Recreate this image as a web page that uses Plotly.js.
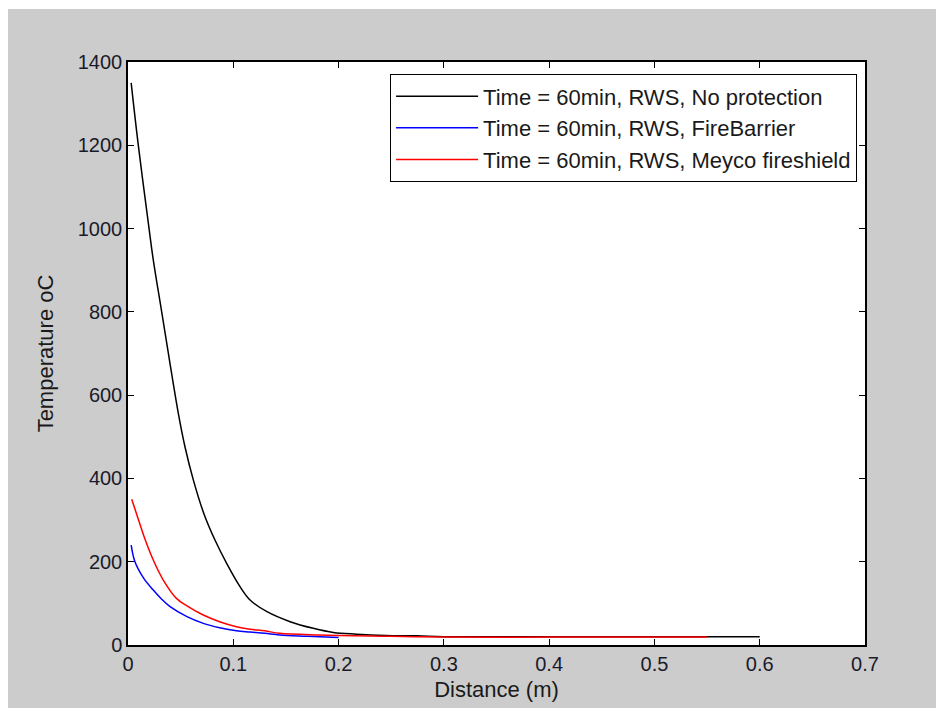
<!DOCTYPE html>
<html>
<head>
<meta charset="utf-8">
<script src="https://cdn.plot.ly/plotly-3.0.1.min.js"></script>
<style>
html,body{margin:0;padding:0;background:#ffffff;}
#plot{position:absolute;left:8px;top:9px;width:928px;height:699px;}
</style>
</head>
<body>
<div id="plot"></div>
<script>
var seriesNames = ["Time = 60min, RWS, No protection", "Time = 60min, RWS, FireBarrier", "Time = 60min, RWS, Meyco fireshield"];
var noProtX = [0.003, 0.0098, 0.020, 0.024, 0.032, 0.0478, 0.0541, 0.0621, 0.072, 0.0826, 0.0937, 0.1064, 0.1159, 0.132, 0.154, 0.176, 0.195, 0.217, 0.245, 0.275, 0.3, 0.4, 0.5, 0.6];
var noProtY = [1350, 1200, 1000, 925, 800, 556, 476, 396, 316, 252, 196, 140, 108, 80, 56, 40, 30, 26, 23, 22, 20, 20, 20, 20];
var fireBarrierX = [0.003, 0.0066, 0.015, 0.024, 0.032, 0.040, 0.056, 0.0715, 0.087, 0.103, 0.116, 0.13, 0.144, 0.17, 0.2];
var fireBarrierY = [240, 200, 160, 132, 110, 92, 68, 52, 41.6, 34, 31, 28, 24, 21, 18];
var meycoX = [0.0035, 0.008, 0.016, 0.024, 0.0335, 0.046, 0.056, 0.0715, 0.087, 0.103, 0.116, 0.13, 0.144, 0.182, 0.25, 0.3, 0.4, 0.5, 0.55];
var meycoY = [350, 316, 255, 204, 156, 112, 94, 72, 56, 44, 38, 34, 28, 24, 21, 19, 19, 19, 19];
var xTicks = [0, 0.1, 0.2, 0.3, 0.4, 0.5, 0.6, 0.7];
var xTickText = ["0", "0.1", "0.2", "0.3", "0.4", "0.5", "0.6", "0.7"];
var yTicks = [0, 200, 400, 600, 800, 1000, 1200, 1400];

var font = "Liberation Sans, Arial, sans-serif";
var lineShape = {shape: "spline", smoothing: 1.0, width: 1.5};
var traces = [
  {x: noProtX, y: noProtY, name: seriesNames[0], mode: "lines", line: Object.assign({color: "#000000"}, lineShape), legendgroup: "a"},
  {x: fireBarrierX, y: fireBarrierY, name: seriesNames[1], mode: "lines", line: Object.assign({color: "#0000ff"}, lineShape), legendgroup: "b"},
  {x: meycoX, y: meycoY, name: seriesNames[2], mode: "lines", line: Object.assign({color: "#ff0000"}, lineShape), legendgroup: "c"}
];
var axisCommon = {
  showline: true, linecolor: "#000000", linewidth: 1.5, mirror: "ticks",
  ticks: "inside", ticklen: 6, tickwidth: 1.2, tickcolor: "#000000",
  showgrid: false, zeroline: false,
  tickfont: {family: font, size: 20, color: "#1a1a2a"}
};
var layout = {
  width: 928, height: 699,
  paper_bgcolor: "#cccccc", plot_bgcolor: "#ffffff",
  margin: {l: 120, r: 71, t: 53, b: 63},
  showlegend: true,
  xaxis: Object.assign({}, axisCommon, {
    range: [0, 0.7], tickvals: xTicks, ticktext: xTickText,
    title: {text: "Distance (m)", font: {family: font, size: 22, color: "#1a1a1a"}, standoff: 8}
  }),
  yaxis: Object.assign({}, axisCommon, {
    range: [0, 1400], tickvals: yTicks,
    title: {text: "Temperature oC", font: {family: font, size: 22, color: "#1a1a1a"}, standoff: 18}
  }),
  legend: {
    x: 0.989, y: 0.979, xanchor: "right", yanchor: "top",
    bgcolor: "#ffffff", bordercolor: "#000000", borderwidth: 1.2,
    font: {family: font, size: 22, color: "#1a1a1a"},
    tracegroupgap: 0, itemwidth: 82
  }
};
Plotly.newPlot("plot", traces, layout, {displayModeBar: false});
</script>
</body>
</html>
